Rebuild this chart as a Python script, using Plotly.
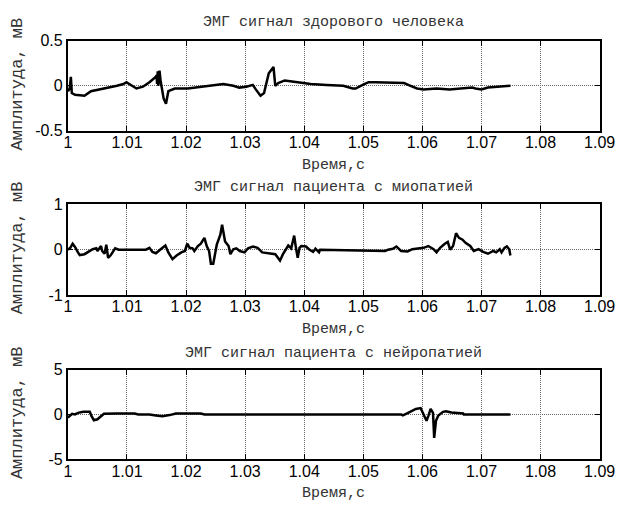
import plotly.graph_objects as go

# ---- data ----
t_healthy = [1.0000, 1.0003, 1.0005, 1.0006, 1.00066, 1.0012, 1.0028, 1.0039, 1.0056, 1.0072,
             1.0083, 1.0094, 1.0099, 1.0116, 1.0127, 1.0138, 1.0146, 1.0149, 1.0150, 1.0151,
             1.0152, 1.0153, 1.0155, 1.0157, 1.0162, 1.0166, 1.0170, 1.0181, 1.0203, 1.0236,
             1.0263, 1.0280, 1.0290, 1.0302, 1.0313, 1.0318, 1.0326, 1.0332, 1.0337, 1.0340,
             1.0348, 1.0351, 1.0356, 1.0367, 1.0389, 1.0411, 1.0438, 1.0466, 1.0482, 1.0487,
             1.0499, 1.0509, 1.0520, 1.0569, 1.0580, 1.0591, 1.0602, 1.0624, 1.0646, 1.0662,
             1.0684, 1.0690, 1.0700, 1.0711, 1.0733, 1.0749]
v_healthy = [-0.06, -0.03, 0.10, 0.03, -0.08, -0.10, -0.11, -0.06, -0.04, -0.02,
             0.00, 0.02, 0.04, -0.03, -0.01, 0.04, 0.08, 0.10, 0.12, 0.02,
             0.16, 0.00, 0.17, 0.05, -0.14, -0.20, -0.06, -0.03, -0.03, 0.00,
             0.02, 0.00, -0.02, -0.01, 0.01, -0.04, -0.11, -0.08, 0.05, 0.14,
             0.21, 0.00, 0.03, 0.06, 0.04, 0.02, 0.01, 0.00, -0.03, -0.03,
             0.01, 0.04, 0.04, 0.03, 0.00, -0.03, -0.04, -0.03, -0.04, -0.03,
             -0.02, -0.03, -0.04, -0.02, -0.01, 0.00]

t_myopathy = [1.0000, 1.0004, 1.0008, 1.0012, 1.0017, 1.0020, 1.0028, 1.0037, 1.0042, 1.0048,
              1.0050, 1.0056, 1.0058, 1.0062, 1.0065, 1.0068, 1.0072, 1.0080, 1.0086, 1.0132,
              1.0138, 1.0143, 1.0149, 1.0157, 1.0165, 1.0170, 1.0177, 1.0184, 1.0192, 1.0198,
              1.0202, 1.0206, 1.0211, 1.0214, 1.0220, 1.0225, 1.0231, 1.0235, 1.0239, 1.0242,
              1.0246, 1.0250, 1.0252, 1.0258, 1.0261, 1.0263, 1.0266, 1.0272, 1.0275, 1.0280,
              1.0285, 1.0291, 1.0299, 1.0305, 1.0313, 1.0321, 1.0329, 1.0351, 1.0359, 1.0364,
              1.0370, 1.0373, 1.0378, 1.0383, 1.0386, 1.0389, 1.0392, 1.0395, 1.0403, 1.0408,
              1.0415, 1.0419, 1.0425, 1.0427, 1.0537, 1.0542, 1.0550, 1.0556, 1.0564, 1.0575,
              1.0583, 1.0591, 1.0602, 1.0610, 1.0619, 1.0624, 1.0630, 1.0638, 1.0643, 1.0647,
              1.0652, 1.0657, 1.0662, 1.0668, 1.0673, 1.0681, 1.0687, 1.0695, 1.0703, 1.0711,
              1.0720, 1.0725, 1.0731, 1.0734, 1.0739, 1.0743, 1.0747, 1.0749]
v_myopathy = [0.00, 0.04, 0.13, 0.06, -0.06, -0.12, -0.10, -0.03, 0.01, 0.03,
              -0.03, 0.08, -0.03, -0.09, 0.11, -0.18, -0.13, 0.03, 0.00, 0.00,
              0.04, -0.05, -0.08, 0.01, 0.09, -0.06, -0.21, -0.13, -0.06, -0.03,
              0.13, 0.04, 0.03, -0.03, 0.08, 0.13, 0.26, 0.08, -0.03, -0.31,
              -0.31, -0.03, 0.11, 0.33, 0.55, 0.40, 0.18, 0.08, -0.10, 0.01,
              0.03, -0.03, -0.06, 0.03, 0.07, 0.04, -0.06, -0.10, -0.24, -0.10,
              0.04, 0.09, 0.03, 0.31, 0.04, -0.18, 0.04, 0.08, 0.07, 0.01,
              -0.05, 0.02, -0.06, 0.00, -0.03, 0.00, 0.02, 0.07, -0.03, -0.04,
              0.01, 0.02, 0.04, 0.08, 0.01, -0.06, 0.04, 0.13, 0.17, 0.00,
              0.08, 0.36, 0.26, 0.22, 0.15, 0.08, -0.03, 0.01, -0.05, -0.09,
              -0.03, -0.06, 0.01, -0.06, 0.04, 0.07, 0.01, -0.13]

t_neuropathy = [1.0000, 1.0004, 1.0007, 1.0012, 1.0017, 1.0026, 1.0037, 1.0040, 1.0044, 1.0050,
                1.0061, 1.0083, 1.0113, 1.0119, 1.0138, 1.0149, 1.0160, 1.0172, 1.0183, 1.0225,
                1.0231, 1.0564, 1.0567, 1.0575, 1.0589, 1.0597, 1.0602, 1.0607, 1.0610, 1.0614,
                1.0618, 1.0620, 1.0623, 1.0627, 1.0635, 1.0640, 1.0649, 1.0657, 1.0669, 1.0670,
                1.0749]
v_neuropathy = [-0.36, -0.10, 0.07, 0.00, 0.18, 0.29, 0.29, -0.18, -0.64, -0.54,
                0.07, 0.11, 0.11, 0.00, 0.00, -0.11, -0.21, -0.07, 0.11, 0.11,
                0.00, 0.00, -0.11, 0.14, 0.61, 0.71, 0.00, -0.71, -0.18, 0.61,
                0.18, -2.60, -0.70, -0.11, 0.29, 0.36, 0.21, 0.14, 0.11, 0.00,
                0.00]

titles = ["ЭМГ сигнал здорового человека",
          "ЭМГ сигнал пациента с миопатией",
          "ЭМГ сигнал пациента с нейропатией"]
x_label = "Время,с"
y_label = "Амплитуда, мВ"
x_ticks = [1.0, 1.01, 1.02, 1.03, 1.04, 1.05, 1.06, 1.07, 1.08, 1.09]
x_ticktext = ["1", "1.01", "1.02", "1.03", "1.04", "1.05", "1.06", "1.07", "1.08", "1.09"]
y_ticks = [[-0.5, 0, 0.5], [-1, 0, 1], [-5, 0, 5]]
y_ticktext = [["-0.5", "0", "0.5"], ["-1", "0", "1"], ["-5", "0", "5"]]

series = [(t_healthy, v_healthy), (t_myopathy, v_myopathy), (t_neuropathy, v_neuropathy)]

# ---- layout geometry (pixels of the 634x509 page) ----
W, H = 634, 509
x_dom = [66 / W, 615 / W]
panels = [(34, 127), (203, 297), (374, 467)]
title_y = [15, 186, 357]
xlab_y = [163, 333, 502]

mono = "'Liberation Mono', 'Courier New', monospace"
sans = "'Liberation Sans', Arial, sans-serif"

fig = go.Figure()
annotations = []
layout = dict(
    width=W, height=H, margin=dict(l=0, r=0, t=0, b=0),
    paper_bgcolor="white", plot_bgcolor="white", showlegend=False,
)

for i, ((tt, vv), (top, bot)) in enumerate(zip(series, panels)):
    n = "" if i == 0 else str(i + 1)
    fig.add_trace(go.Scatter(x=tt, y=vv, mode="lines",
                             line=dict(color="black", width=2.5),
                             xaxis="x" + n, yaxis="y" + n, hoverinfo="skip"))
    common = dict(showline=True, linecolor="black", linewidth=2, mirror="ticks",
                  ticks="inside", ticklen=5, tickwidth=1, tickcolor="black",
                  showgrid=True, gridcolor="#666666", griddash="1px,1px", gridwidth=1,
                  zeroline=False, tickfont=dict(family=sans, size=16, color="black"))
    layout["xaxis" + n] = dict(common, domain=x_dom, range=[1.0, 1.09],
                               tickmode="array", tickvals=x_ticks, ticktext=x_ticktext,
                               anchor="y" + n, ticklabelstandoff=-4)
    layout["yaxis" + n] = dict(common, domain=[1 - bot / H, 1 - top / H],
                               range=[y_ticks[i][0], y_ticks[i][-1]],
                               tickmode="array", tickvals=y_ticks[i], ticktext=y_ticktext[i],
                               anchor="x" + n, ticklabelstandoff=0)
    annotations.append(dict(text=titles[i], xref="paper", yref="paper",
                            x=340.5 / W, y=1 - title_y[i] / H, showarrow=False,
                            xanchor="center", yanchor="middle",
                            font=dict(family=mono, size=15, color="#333")))
    annotations.append(dict(text=x_label, xref="paper", yref="paper",
                            x=340.5 / W, y=1 - xlab_y[i] / H, showarrow=False,
                            xanchor="center", yanchor="middle",
                            font=dict(family=mono, size=15, color="#333")))
    annotations.append(dict(text=y_label, xref="paper", yref="paper",
                            x=14 / W, y=1 - ((top + bot) / 2 - 2) / H, showarrow=False,
                            xanchor="center", yanchor="middle", textangle=-90,
                            font=dict(family=mono, size=17, color="#333")))

layout["annotations"] = annotations
fig.update_layout(**layout)
fig.write_html("out.html")
